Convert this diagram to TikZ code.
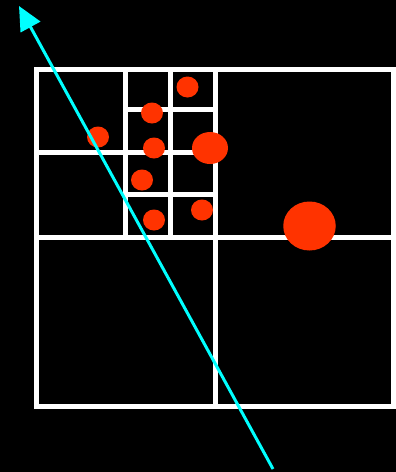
\documentclass[tikz,border=0pt]{standalone}
\usetikzlibrary{arrows.meta,shapes.geometric}
\definecolor{pt}{HTML}{FF3300}
\definecolor{ray}{HTML}{00FFFF}
\begin{document}
\begin{tikzpicture}[x=1pt,y=-1pt,
  grid/.style={draw=white,line width=5pt},
  pnt/.style={ellipse,fill=pt,inner sep=0pt,draw=none},
  small/.style={pnt,minimum width=22pt,minimum height=21pt},
]
\fill[black] (0,0) rectangle (396,472);
\useasboundingbox (0,0) rectangle (396,472);
% grid
\draw[grid] (36,69) rectangle (393.5,406);
\draw[grid] (215,69) -- (215,406);
\draw[grid] (36,237) -- (393.5,237);
\draw[grid] (125,69) -- (125,237);
\draw[grid] (170,69) -- (170,237);
\draw[grid] (36,152) -- (215,152);
\draw[grid] (125,109) -- (215,109);
\draw[grid] (125,194) -- (215,194);
% points
\node[small] (p1) at (187.5,87) {};
\node[small] (p2) at (152,113) {};
\node[small] (p3) at (98,137) {};
\node[small] (p4) at (154,148) {};
\node[pnt,minimum width=36pt,minimum height=32pt] (p5) at (210,148) {};
\node[small] (p6) at (142,180) {};
\node[small] (p7) at (202,210) {};
\node[small] (p8) at (154,220) {};
\node[pnt,minimum width=52.5pt,minimum height=49pt] (p9) at (309.5,226) {};
% ray
\coordinate (rs) at (273,469);
\coordinate (re) at (19,6);
\draw[ray,line width=3pt,-{Triangle[length=24pt,width=22pt]}] (rs) -- (re);
\end{tikzpicture}
\end{document}
